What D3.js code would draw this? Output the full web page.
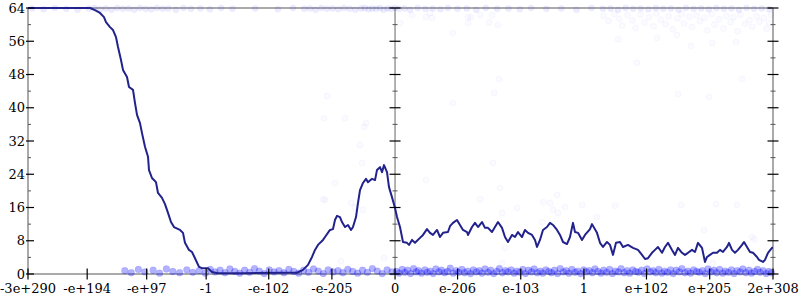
<!DOCTYPE html>
<html lang="en">
<head>
<meta charset="UTF-8" />
<title>Float distribution</title>
<script src="https://d3js.org/d3.v7.min.js"></script>
<style>
  body { margin: 0; background: #fff; }
  svg { display: block; }
  text { font-family: "DejaVu Serif", serif; font-size: 13px; fill: #000; }
</style>
</head>
<body>
<svg id="chart" width="800" height="300"></svg>
<script>
// x ticks are real doubles, placed by their ordered bit pattern
const xTickValues = [-3e290, -1e194, -1e97, -1, -1e-102, -1e-205, 0, 1e-206, 1e-103, 1, 1e102, 1e205, 1.7976931348623157e308];
const xTickLabels = ["-3e+290", "-e+194", "-e+97", "-1", "-e-102", "-e-205", "0", "e-206", "e-103", "1", "e+102", "e+205", "2e+308"];
const yTicks = [0, 8, 16, 24, 32, 40, 48, 56, 64];
const yMinorTicks = [4, 12, 20, 28, 36, 44, 52, 60];

// curve: [position in % of bit range, count]
const curve = [
  [-97.11, 64], [-80.71, 64], [-79.39, 63.5], [-78.06, 62.8], [-77.01, 61.8], [-76.48, 60.6],
  [-75.42, 59.4], [-74.62, 58.7], [-73.83, 57.0], [-73.30, 54.6], [-72.51, 51.5], [-71.98, 49.1],
  [-70.92, 47.4], [-70.39, 45.0], [-69.33, 44.3], [-68.80, 41.1], [-68.27, 38.3], [-67.48, 36.3],
  [-66.95, 33.9], [-66.16, 30.6], [-65.36, 28.2], [-65.10, 25.0], [-64.31, 23.1], [-63.25, 22.1],
  [-62.72, 19.5], [-61.66, 18.3], [-60.87, 16.8], [-60.07, 14.7], [-59.28, 12.5], [-58.49, 11.3],
  [-56.90, 10.6], [-56.10, 9.9], [-55.58, 7.5], [-54.52, 5.8], [-53.72, 5.3], [-52.93, 3.8],
  [-51.87, 1.7], [-51.08, 1.4], [-49.49, 1.4], [-48.43, 0.5], [-46.84, 0.2], [-40.0, 0.2],
  [-30.0, 0.3], [-25.94, 0.3], [-24.35, 1.0], [-23.03, 2.2], [-21.97, 4.1], [-21.18, 5.8],
  [-20.39, 7.0], [-19.06, 8.2], [-18.53, 8.9], [-17.21, 10.6], [-16.42, 10.8], [-15.89, 13.0],
  [-15.36, 14.0], [-14.57, 13.7], [-14.04, 12.5], [-13.24, 11.3], [-12.45, 11.8], [-11.65, 10.6],
  [-11.13, 11.3], [-10.33, 13.7], [-9.80, 17.1], [-9.27, 20.2], [-8.48, 21.9], [-7.69, 22.9],
  [-7.16, 22.1], [-6.10, 22.9], [-5.30, 22.6], [-4.78, 25.0], [-3.98, 25.7], [-3.45, 24.5],
  [-2.92, 26.2], [-2.13, 24.5], [-1.60, 20.9], [-0.81, 18.5], [-0.01, 15.9], [0.52, 13.7],
  [1.31, 11.3], [2.10, 7.7], [3.16, 7.5], [3.69, 7.0], [4.48, 8.2], [5.28, 7.5],
  [6.60, 8.7], [7.40, 9.4], [8.45, 10.8], [9.25, 9.9], [10.04, 9.4], [11.10, 10.6],
  [11.89, 8.9], [12.69, 9.9], [14.01, 10.1], [14.54, 11.5], [15.33, 12.3], [16.39, 13.0],
  [17.18, 11.8], [17.98, 10.6], [19.04, 10.1], [19.30, 9.4], [20.36, 11.3], [21.15, 12.3],
  [21.95, 11.3], [23.01, 12.5], [23.80, 11.1], [24.59, 11.1], [25.65, 10.1], [26.44, 11.3],
  [27.24, 12.5], [28.30, 11.1], [29.09, 8.9], [29.88, 7.7], [30.94, 9.4], [31.74, 8.9],
  [32.53, 10.1], [33.59, 8.9], [34.38, 10.6], [35.18, 9.9], [36.23, 9.4], [37.03, 8.2],
  [37.56, 6.5], [38.35, 8.2], [39.14, 10.6], [40.20, 11.3], [41.00, 12.3], [41.79, 11.8],
  [42.85, 10.6], [43.64, 9.4], [44.44, 7.7], [45.49, 7.2], [46.29, 8.9], [47.08, 12.3],
  [47.61, 10.1], [48.41, 9.9], [49.46, 8.2], [50.26, 9.4], [51.58, 10.8], [52.11, 12.0],
  [53.43, 9.9], [54.23, 7.5], [55.02, 6.5], [56.08, 7.7], [56.87, 7.0], [57.67, 4.6],
  [58.46, 7.5], [59.52, 7.7], [60.31, 6.5], [61.63, 7.0], [62.96, 6.3], [64.28, 5.8],
  [65.34, 4.6], [66.13, 3.6], [66.93, 3.8], [67.98, 5.1], [68.78, 5.8], [69.57, 6.5],
  [70.63, 5.1], [71.42, 6.5], [72.22, 7.5], [73.28, 5.8], [74.07, 4.6], [74.86, 6.3],
  [75.92, 5.1], [76.71, 4.6], [77.51, 5.1], [78.57, 5.8], [79.36, 5.3], [80.15, 7.5],
  [81.21, 6.3], [82.01, 2.9], [82.54, 4.1], [83.33, 4.6], [84.12, 5.1], [85.18, 5.1],
  [85.98, 5.8], [86.77, 5.3], [87.83, 6.5], [88.36, 7.5], [89.15, 5.8], [89.94, 5.1],
  [90.74, 5.8], [91.80, 7.0], [92.33, 7.7], [93.12, 6.5], [93.91, 5.3], [94.71, 5.1],
  [95.77, 4.1], [96.29, 3.4], [97.35, 2.9], [97.88, 3.4], [98.68, 5.1], [99.73, 6.3], [100, 6.3]
];

// samples piled on the floor (count near 0)
const floorPts = [
  [-71.5,0.8],[-69.8,0.3],[-67.9,1.1],[-66.2,0.5],[-64.0,0.9],[-62.3,0.2],[-60.5,1.2],[-58.8,0.6],
  [-57.0,0.3],[-55.1,1.0],[-53.5,0.4],[-51.8,0.8],[-50.2,0.2],[-48.9,1.1],[-47.6,0.5],[-46.3,0.9],
  [-45.0,0.3],[-43.7,1.2],[-42.4,0.6],[-41.1,0.2],[-39.8,0.9],[-38.5,0.4],[-37.2,1.3],[-35.9,0.7],
  [-34.6,0.1],[-33.3,1.0],[-32.0,0.5],[-30.7,0.8],[-29.4,0.3],[-28.1,1.1],[-26.8,0.6],[-25.5,0.2],
  [-24.2,0.9],[-22.9,0.4],[-21.6,1.2],[-20.3,0.7],[-19.0,0.1],[-17.7,1.0],[-16.4,0.5],[-15.1,0.8],
  [-13.8,0.3],[-12.5,1.1],[-11.2,0.6],[-9.9,0.2],[-8.6,0.9],[-7.3,0.4],[-6.0,1.3],[-4.7,0.7],
  [-3.4,0.1],[-2.1,1.0],[-0.8,0.5],
  [0.4,0.6],[1.1,0.2],[1.9,1.1],[2.6,0.4],[3.3,0.9],[4.1,0.1],[4.9,1.3],[5.6,0.5],[6.2,0.8],
  [7.0,0.2],[7.9,1.0],[8.5,0.4],[9.3,0.7],[10.1,0.1],[10.8,1.2],[11.6,0.5],[12.3,0.9],[13.1,0.3],
  [13.9,0.6],[14.6,1.4],[15.4,0.2],[16.2,0.8],[16.9,0.4],[17.7,1.1],[18.4,0.3],[19.2,0.7],[20.0,0.1],
  [20.7,1.0],[21.5,0.5],[22.3,0.8],[23.0,0.2],[23.8,1.2],[24.6,0.4],[25.3,0.9],[26.1,0.1],[26.9,0.6],
  [27.6,1.3],[28.4,0.3],[29.2,0.8],[29.9,0.5],[30.7,1.0],[31.5,0.2],[32.2,0.7],[33.0,0.4],[33.8,1.1],
  [34.5,0.1],[35.3,0.9],[36.1,0.5],[36.8,1.2],[37.6,0.3],[38.4,0.7],[39.1,0.2],[39.9,1.0],[40.7,0.6],
  [41.4,0.3],[42.2,0.9],[43.0,0.1],[43.7,1.3],[44.5,0.5],[45.3,0.8],[46.0,0.2],[46.8,1.1],[47.6,0.4],
  [48.3,0.7],[49.1,0.1],[49.9,1.0],[50.6,0.5],[51.4,0.8],[52.2,0.3],[52.9,1.2],[53.7,0.6],[54.5,0.2],
  [55.2,0.9],[56.0,0.4],[56.8,1.1],[57.5,0.1],[58.3,0.7],[59.1,0.5],[59.8,1.3],[60.6,0.3],[61.4,0.8],
  [62.1,0.2],[62.9,1.0],[63.7,0.6],[64.4,0.4],[65.2,0.9],[66.0,0.1],[66.7,1.2],[67.5,0.5],[68.3,0.8],
  [69.0,0.3],[69.8,1.1],[70.6,0.2],[71.3,0.7],[72.1,0.4],[72.9,1.0],[73.6,0.1],[74.4,0.9],[75.2,0.5],
  [75.9,1.3],[76.7,0.3],[77.5,0.7],[78.2,0.2],[79.0,1.0],[79.8,0.6],[80.5,0.4],[81.3,0.8],[82.1,0.1],
  [82.8,1.2],[83.6,0.5],[84.4,0.9],[85.1,0.3],[85.9,1.1],[86.7,0.2],[87.4,0.7],[88.2,0.4],[89.0,1.0],
  [89.7,0.1],[90.5,0.8],[91.3,0.5],[92.0,1.2],[92.8,0.3],[93.6,0.9],[94.3,0.2],[95.1,0.6],[95.9,1.1],
  [96.6,0.4],[97.4,0.8],[98.2,0.1],[98.9,0.6],[99.6,0.3]
];

// samples at the ceiling (count near 64)
const ceilPts = [
  [-96,63.9],[-93,63.7],[-90,64],[-87,63.8],[-84,63.6],[-81,63.9],[-79.5,64],[-78,63.7],[-76.5,63.9],
  [-75,63.6],[-73.5,64],[-72,63.8],[-70.5,63.9],[-69,63.6],[-67.5,64],[-66,63.8],[-64.5,63.7],[-63,64],
  [-61.5,63.8],[-60,63.9],[-58,63.6],[-56,64],[-54,63.8],[-51.5,63.9],[-49,63.7],[-46,64],
  [-43,63.8],[-37,63.9],[-31,63.7],[-27,64],
  [-24,63.8],[-22.5,63.9],[-21,63.6],[-19.5,64],[-18,63.8],[-16.5,63.9],[-15,63.7],[-13.5,64],
  [-12,63.8],[-10.5,63.6],[-9,63.9],[-8,64],[-7,63.7],[-6,63.9],[-5,63.8],[-4,64],[-3,63.6],
  [-2,63.9],[-1,63.8],[0,64],
  [1,63.8],[2.5,63.9],[4,63.6],[6,64],[8,63.8],[10,63.9],[12,63.7],[14,64],[16.5,63.8],[19,63.9],
  [21.5,63.6],[24,64],[27,63.8],[30,63.9],[33,63.7],[36,64],[40,63.8],[44,63.9],[48,63.6],[52,64],
  [55,63.8],[57,63.9],[59,63.6],[61,64],[63,63.8],[65,63.9],[67,63.7],[69,64],[71,63.8],[73,63.9],
  [75,63.6],[77,64],[79,63.8],[81,63.9],[83,63.7],[85,64],[87,63.8],[89,63.9],[91,63.6],[93,64],
  [95,63.8],[97,63.9],[99,63.7]
];

// loose samples in between
const cloudPts = [
  [55.2,62.1],[56.5,60.9],[58.0,62.6],[59.3,61.4],[60.1,59.8],[61.5,62.3],[62.8,61.0],[63.6,59.2],
  [64.9,62.4],[66.0,60.5],[67.2,61.8],[68.4,59.6],[69.1,62.7],[70.3,61.2],[71.6,60.1],[72.4,62.0],
  [73.5,58.9],[74.7,61.5],[75.8,62.6],[76.4,60.3],[77.9,61.9],[78.6,59.4],[79.8,62.2],[80.7,60.8],
  [81.9,61.6],[82.6,58.6],[83.8,62.5],[84.5,60.0],[85.7,61.3],[86.9,59.1],[87.6,62.1],[88.8,60.6],
  [89.5,61.8],[90.7,58.4],[91.4,62.4],[92.6,60.2],[93.8,61.1],[94.5,59.5],[95.7,62.0],[96.4,60.7],
  [97.6,61.6],[98.3,59.0],[99.5,62.3],[99.0,60.4],
  [4.5,62.3],[8.2,61.8],[9.3,62.8],[9.8,61.6],[15.3,58.0],[19.3,61.8],[20.1,61.8],[22.5,62.3],
  [19.3,60.4],[24.9,60.6],[25.7,62.3],[27.2,59.9],[1.3,60.4],[-18.0,42.8],[26.2,43.6],[27.5,46.9],
  [-18.8,37.5],[-13.2,37.5],[-7.7,36.3],[-8.2,35.4],[-9.3,31.0],[-8.7,26.7],[15.3,41.1],[-15.9,21.9],
  [-19.0,18.0],[8.2,22.6],[25.9,26.7],[22.5,18.0],[-8.5,15.4],[27.8,20.7],[-11.6,17.1],[-14.3,3.1],
  [-2.9,3.8],[32.3,15.9],[39.2,17.3],[41.0,17.1],[42.9,19.0],[38.9,12.5],[29.1,6.3],[28.3,2.6],
  [28.3,14.7],[41.8,15.4],[43.1,14.7],[45.0,16.1],[49.5,16.6],[53.4,13.7],[58.2,16.4],[75.7,16.6],
  [84.9,16.8],[90.5,16.6],[81.7,10.6],[84.1,2.6],[94.4,8.9],[95.0,8.4],[59.0,56.5],[64.0,50.8],
  [69.3,56.8],[74.6,57.5],[78.3,54.9],[83.9,55.6],[90.2,55.8],[91.8,46.9],[74.9,43.3],[83.1,42.6],
  [-18.5,17.8],[-10.6,16.1]
];

const plot = { left: 28, right: 773, top: 8, bottom: 274 };

// ordered bit pattern of a double, as % of the largest finite double
const dv = new DataView(new ArrayBuffer(8));
function bits(v) {
  dv.setFloat64(0, Math.abs(v));
  return Number(dv.getBigUint64(0));
}
const maxBits = bits(Number.MAX_VALUE);
function toU(v) {
  return (v < 0 ? -100 : 100) * bits(v) / maxBits;
}

const tickU = xTickValues.map(toU);

const x = d3.scaleLinear()
  .domain([tickU[0], tickU[tickU.length - 1]])
  .range([plot.left, plot.right]);

const y = d3.scaleLinear()
  .domain([0, 64])
  .range([plot.bottom, plot.top]);

const svg = d3.select("#chart");

// frame
const frame = svg.append("g")
  .attr("stroke", "#aaa")
  .attr("stroke-width", 2)
  .attr("fill", "none");
frame.append("line").attr("x1", x.range()[0]).attr("x2", x.range()[1]).attr("y1", y(64)).attr("y2", y(64));
frame.append("line").attr("x1", x.range()[0]).attr("x2", x.range()[1]).attr("y1", y(0)).attr("y2", y(0));
frame.append("line").attr("x1", x.range()[0]).attr("x2", x.range()[0]).attr("y1", y(0)).attr("y2", y(64));
frame.append("line").attr("x1", x.range()[1]).attr("x2", x.range()[1]).attr("y1", y(0)).attr("y2", y(64));

// zero line
svg.append("line")
  .attr("x1", x(toU(0))).attr("x2", x(toU(0)))
  .attr("y1", y(0)).attr("y2", y(64))
  .attr("stroke", "#666")
  .attr("stroke-width", 1);

// scatter
function dots(pts, r, fillOp, strokeOp) {
  svg.append("g")
    .selectAll("circle")
    .data(pts)
    .enter()
    .append("circle")
    .attr("cx", d => x(d[0]))
    .attr("cy", d => y(d[1]))
    .attr("r", r)
    .attr("fill", "#0000ff")
    .attr("fill-opacity", fillOp)
    .attr("stroke", "#0000ff")
    .attr("stroke-opacity", strokeOp)
    .attr("stroke-width", 0.8);
}
dots(cloudPts, 3, 0.02, 0.045);
dots(ceilPts, 3, 0.07, 0.05);
dots(floorPts, 3.4, 0.3, 0.1);

// curve
const line = d3.line().x(d => x(d[0])).y(d => y(d[1]));
svg.append("path")
  .datum(curve)
  .attr("fill", "none")
  .attr("stroke", "#22228c")
  .attr("stroke-width", 2)
  .attr("stroke-linejoin", "round")
  .attr("d", line);

// vertical axes ticks: left, zero, right
const axisXs = [
  { px: x.range()[0], lo: -2, hi: 6, mlo: 0, mhi: 3 },
  { px: x(toU(0)), lo: -5.5, hi: 5.5, mlo: -2.5, mhi: 2.5 },
  { px: x.range()[1], lo: -5.5, hi: 5.5, mlo: -2.5, mhi: 2.5 }
];
axisXs.forEach(a => {
  const g = svg.append("g");
  g.selectAll("line.major")
    .data(yTicks)
    .enter()
    .append("line")
    .attr("x1", a.px + a.lo).attr("x2", a.px + a.hi)
    .attr("y1", d => y(d)).attr("y2", d => y(d))
    .attr("stroke", "#000")
    .attr("stroke-width", 1.2);
  g.selectAll("line.minor")
    .data(yMinorTicks)
    .enter()
    .append("line")
    .attr("x1", a.px + a.mlo).attr("x2", a.px + a.mhi)
    .attr("y1", d => y(d)).attr("y2", d => y(d))
    .attr("stroke", "#555")
    .attr("stroke-width", 1);
});

// y labels
svg.append("g")
  .attr("transform", `translate(${plot.left},0)`)
  .call(d3.axisLeft(y).tickValues(yTicks).tickSize(0).tickPadding(3))
  .call(g => g.select(".domain").remove())
  .call(g => g.selectAll("text")
    .attr("font-family", "DejaVu Serif")
    .attr("font-size", 13)
    .attr("fill", "#000"));

// x axis
const xAxis = svg.append("g");
xAxis.selectAll("line")
  .data(tickU)
  .enter()
  .append("line")
  .attr("x1", d => x(d)).attr("x2", d => x(d))
  .attr("y1", y(0) - 5.5).attr("y2", y(0) + 5.5)
  .attr("stroke", "#000")
  .attr("stroke-width", 1.2);
xAxis.selectAll("text")
  .data(tickU)
  .enter()
  .append("text")
  .attr("x", d => x(d))
  .attr("y", y(0) + 19)
  .attr("text-anchor", "middle")
  .text((d, i) => xTickLabels[i]);
</script>
</body>
</html>
